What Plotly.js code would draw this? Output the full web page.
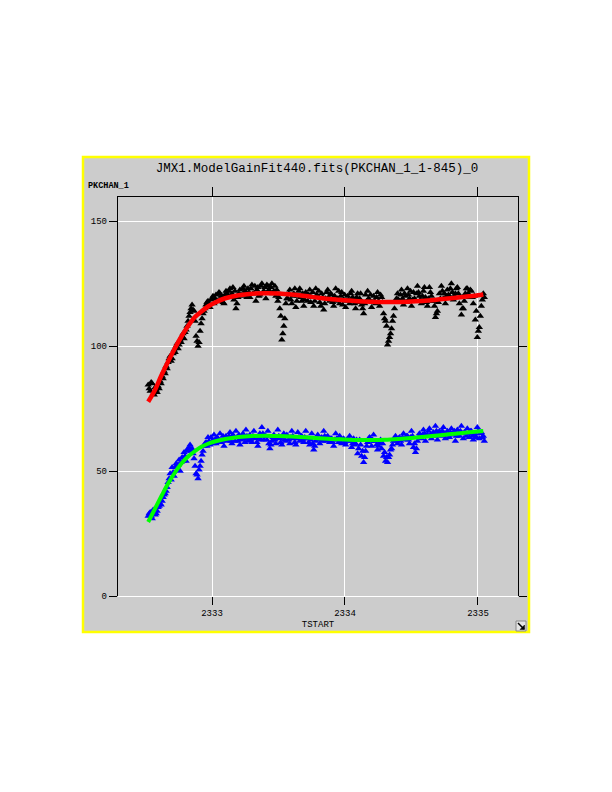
<!DOCTYPE html>
<html>
<head>
<meta charset="utf-8">
<script src="https://cdn.plot.ly/plotly-3.0.1.min.js"></script>
<style>html,body{margin:0;padding:0;background:#fff;}#chart{width:612px;height:792px;}</style>
</head>
<body>
<div id="chart"></div>
<script>
// TSTART values of the samples, first half (shared by both channels)
const tstart = [
2332.520,2332.535,2332.550,2332.565,2332.580,2332.595,2332.610,2332.625,2332.640,2332.655,
2332.670,2332.685,2332.700,2332.715,2332.730,2332.745,2332.760,2332.775,2332.790,2332.805,
2332.820,2332.835,2332.850,2332.865,2332.880,2332.895,2332.910,2332.925,2332.940,2332.955,
2332.970,2332.985,2333.000,2333.015,2333.030,2333.045,2333.060,2333.075,2333.090,2333.105,
2333.120,2333.135,2333.150,2333.165,2333.180,2333.195,2333.210,2333.225,2333.240,2333.255,
2333.270,2333.285,2333.300,2333.315,2333.330,2333.345,2333.360,2333.375,2333.390,2333.405,
2333.420,2333.435,2333.450,2333.465,2333.480,2333.495,2333.510,2333.525,2333.540,2333.555,
2333.570,2333.585,2333.600,2333.615,2333.630,2333.645,2333.660,2333.675,2333.690,2333.705,
2333.720,2333.735,2333.750,2333.765,2333.780,2333.795,2333.810,2333.825,2333.840,2333.855,
2333.870,2333.885,2333.900,2333.915,2333.930,2333.945,2333.960,2333.975,2333.990,2334.005,
2334.020,2334.035,2334.050,2334.065,2334.080,2334.095,2334.110,2334.125,2334.140,2334.155,
2334.170,2334.185,2334.200,2334.215,2334.230,2334.245,2334.260,2334.275,2334.290,2334.305,
2334.320,2334.335,2334.350,2334.365,2334.380,2334.395,2334.410,2334.425,2334.440,2334.455,
2334.470,2334.485,2334.500,2334.515,2334.530,2334.545,2334.560,2334.575,2334.590,2334.605,
2334.620,2334.635,2334.650,2334.665,2334.680,2334.695,2334.710,2334.725,2334.740,2334.755,
2334.770,2334.785,2334.800,2334.815,2334.830,2334.845,2334.860,2334.875,2334.890,2334.905,
2334.920,2334.935,2334.950,2334.965,2334.980,2334.995,2335.010,2335.025,2335.040
];
// TSTART values of the samples, second half (interleaved)
const tstart2 = [
2332.5275,2332.5425,2332.5575,2332.5725,2332.5875,2332.6025,2332.6175,2332.6325,2332.6475,2332.6625,
2332.6775,2332.6925,2332.7075,2332.7225,2332.7375,2332.7525,2332.7675,2332.7825,2332.7975,2332.8125,
2332.8275,2332.8425,2332.8575,2332.8725,2332.8875,2332.9025,2332.9175,2332.9325,2332.9475,2332.9625,
2332.9775,2332.9925,2333.0075,2333.0225,2333.0375,2333.0525,2333.0675,2333.0825,2333.0975,2333.1125,
2333.1275,2333.1425,2333.1575,2333.1725,2333.1875,2333.2025,2333.2175,2333.2325,2333.2475,2333.2625,
2333.2775,2333.2925,2333.3075,2333.3225,2333.3375,2333.3525,2333.3675,2333.3825,2333.3975,2333.4125,
2333.4275,2333.4425,2333.4575,2333.4725,2333.4875,2333.5025,2333.5175,2333.5325,2333.5475,2333.5625,
2333.5775,2333.5925,2333.6075,2333.6225,2333.6375,2333.6525,2333.6675,2333.6825,2333.6975,2333.7125,
2333.7275,2333.7425,2333.7575,2333.7725,2333.7875,2333.8025,2333.8175,2333.8325,2333.8475,2333.8625,
2333.8775,2333.8925,2333.9075,2333.9225,2333.9375,2333.9525,2333.9675,2333.9825,2333.9975,2334.0125,
2334.0275,2334.0425,2334.0575,2334.0725,2334.0875,2334.1025,2334.1175,2334.1325,2334.1475,2334.1625,
2334.1775,2334.1925,2334.2075,2334.2225,2334.2375,2334.2525,2334.2675,2334.2825,2334.2975,2334.3125,
2334.3275,2334.3425,2334.3575,2334.3725,2334.3875,2334.4025,2334.4175,2334.4325,2334.4475,2334.4625,
2334.4775,2334.4925,2334.5075,2334.5225,2334.5375,2334.5525,2334.5675,2334.5825,2334.5975,2334.6125,
2334.6275,2334.6425,2334.6575,2334.6725,2334.6875,2334.7025,2334.7175,2334.7325,2334.7475,2334.7625,
2334.7775,2334.7925,2334.8075,2334.8225,2334.8375,2334.8525,2334.8675,2334.8825,2334.8975,2334.9125,
2334.9275,2334.9425,2334.9575,2334.9725,2334.9875,2335.0025,2335.0175,2335.0325,2335.0475
];

// PKCHAN_1 channel A (black triangles)
const pkchanA = [
84.5,82,85,80.5,82.5,84,86,88,90,92,
93.5,96,95,98.5,100,99,102.5,104,103,106.5,
110,113.5,116.5,114,104,100,106,111,114,116.5,
118,115.5,119,117,120.5,118,121,119.5,117,122,
120,123,121,118.5,115,119.5,122.5,120,124,121.5,
123,119.5,124.5,121,118,123.5,120.5,125,122,119,
124,121.5,125,122,120,118,115,102.5,108,117,
119,122.5,117,121,115.5,120,123,118,116,121.5,
118,122.5,119.5,116,123,120,117.5,121,114.5,119,
122.5,118,120.5,116,123,119,117,121.5,118.5,115.5,
120,117,122,118.5,115,121,119,116.5,113,120.5,
122,118,115.5,120,117,121.5,116,119.5,113,110,
100.5,103.5,107,112,117.5,121,118,122.5,116.5,120,
123,119,116,121.5,118,124,120,117,122,119.5,
116,123.5,120,118,111.5,114,121,124,119,117,
122.5,120,125,118.5,121,123.5,117,112.5,115,121,
123,119.5,122,117,110.5,103.5,107.5,116,121
];
const pkchanA2 = [
83,85.5,81,83.5,81.5,83,85,87,89,91,
95,94,97,97.5,101,100.5,101.5,105,105.5,108,
112,115,114.5,110,102,101.5,109,113,115,117.5,
116.5,118.5,120,119,118,121.5,120,117.5,120.5,121,
122,119.5,123.5,122,117,121,120.5,123,122,119.5,
121.5,123,121,124,122.5,120,124,121.5,123.5,124.5,
122.5,123.5,121,124,122.5,119.5,112,105,111,119,
121,118.5,120,123,118,122,119.5,121,118.5,120,
120.5,117.5,121.5,118,120.5,122,116,119.5,117,121.5,
119.5,121,117.5,120,118,122,120,116.5,120.5,118,
118.5,121,119.5,117,119.5,117.5,121,115,117,118,
119,120.5,117.5,118,119.5,118,120.5,117.5,111,108,
102,105,110,115,119,118.5,120.5,119,121,117.5,
120.5,122,118.5,119,121,121.5,118.5,120,123.5,117.5,
119,121.5,118,116,113,117.5,119,122,121,120,
120.5,123,121.5,120,123,121,119.5,115,118,123,
121,122.5,119.5,120,114,106,112,118.5,119.5
];

// PKCHAN_1 channel B (blue triangles)
const pkchanB = [
32,33.5,31,34,33,35.5,37,38,40.5,42,
45.5,49,51.5,48,53,52.5,50,55.5,57.5,54,
58,60.5,59,55,49,47,52,56.5,60,61.5,
63.5,60.5,62,64.5,61,63,65,62,60,64,
62.5,65.5,61,63.5,66,62,60.5,64,63,66.5,
62,64.5,61.5,66,63,60,65,67.5,62.5,64,
66,59,62,64.5,61,66.5,63,60.5,65,62,
64,61,66,63,60.5,65.5,62,64,61.5,66,
63,60.5,65,58.5,62,64.5,61,63.5,66,62,
64,61.5,63,60,65,62.5,64,61,63,60.5,
62,64,59.5,63,61,57,62.5,56,53.5,58,
61.5,63.5,60,64.5,62,58.5,61,59,56,54,
53.5,56.5,59,62,64,61,63.5,60.5,65,62.5,
64,61,66,59.5,57.5,62,65,63,66.5,62,
64.5,67,63,65.5,68,62.5,66,64,67.5,63,
66,63.5,67,64.5,62,66.5,64,68,63,65.5,
67,63.5,66,62.5,65,67.5,63,65.5,64
];
const pkchanB2 = [
33,32,34.5,32.5,34,36,36.5,39.5,41,43.5,
47,46.5,49.5,51.5,50.5,54.5,53.5,54,56,58.5,
59.5,58,57,52,48.5,50.5,54,58,61,60,
62,63.5,61,62.5,63.5,62,61.5,64,62.5,62,
64,62,64.5,62,63.5,64.5,62.5,65,61.5,64,
63.5,62.5,64,63.5,61.5,63.5,62.5,65,64,62.5,
61,60.5,63.5,62.5,63.5,64,61.5,63.5,62.5,64.5,
62.5,63.5,64,61.5,63,63.5,64,62.5,63.5,63,
61.5,62.5,61,60,63.5,62.5,63,62,64,63.5,
62.5,63,61.5,62.5,63,61.5,62.5,62.5,61.5,62.5,
63,62,61,60.5,62.5,59,60.5,58,55.5,60,
63,62,62.5,62,60.5,60,62.5,61,57.5,55.5,
55.5,58.5,60.5,63,62,63,62,63.5,63,64,
62.5,63.5,64,61,59,63.5,64,64.5,65,64,
66,64.5,65,64,66,65,64.5,66,65,64.5,
64.5,65.5,65,66,64,65,66,65,65.5,64,
65,66,64,64.5,63.5,66,65,63.5,62
];

// Model gain fit curves
const fitT = [
2332.52,2332.57,2332.62,2332.67,2332.72,2332.77,2332.82,2332.87,2332.92,2332.97,
2333.02,2333.10,2333.20,2333.30,2333.40,2333.50,2333.60,2333.70,2333.80,2333.90,
2334.00,2334.10,2334.20,2334.30,2334.40,2334.50,2334.60,2334.70,2334.80,2334.90,
2335.00,2335.04
];
const fitA = [
77.7,82.3,88.3,93.8,99,103.8,108,111.5,113.8,115.8,
117.3,119.1,120.3,120.9,121.1,121.0,120.6,120.0,119.3,118.7,
118.3,117.9,117.7,117.6,117.6,117.8,118.1,118.6,119.1,119.7,
120.3,120.6
];
const fitB = [
29.6,34.8,40,45,49.3,53,55.8,57.9,59.7,60.9,
61.8,62.8,63.6,64.0,64.1,64.0,63.8,63.5,63.1,62.8,
62.6,62.4,62.4,62.5,62.8,63.2,63.7,64.2,64.8,65.3,
65.8,66.0
];

const xTicks = [2333, 2334, 2335];
const yTicks = [0, 50, 100, 150];

const tickFont = {family: 'Liberation Mono, DejaVu Sans Mono, monospace', size: 9, color: '#000'};
const mk = (c) => ({symbol: 'triangle-up', size: 6.5, color: c, line: {width: 0}});

const traces = [
  {x: tstart, y: pkchanA, type: 'scatter', mode: 'markers', marker: mk('#000000'), name: 'chan A'},
  {x: tstart2, y: pkchanA2, type: 'scatter', mode: 'markers', marker: mk('#000000'), name: 'chan A (2)'},
  {x: tstart, y: pkchanB, type: 'scatter', mode: 'markers', marker: mk('#0000ff'), name: 'chan B'},
  {x: tstart2, y: pkchanB2, type: 'scatter', mode: 'markers', marker: mk('#0000ff'), name: 'chan B (2)'},
  {x: fitT, y: fitA, type: 'scatter', mode: 'lines', line: {color: '#ff0000', width: 4.5, shape: 'spline'}, name: 'fit A'},
  {x: fitT, y: fitB, type: 'scatter', mode: 'lines', line: {color: '#00ff00', width: 4, shape: 'spline'}, name: 'fit B'},
  {x: [2333], y: [0], xaxis: 'x2', type: 'scatter', mode: 'markers', marker: {opacity: 0}, hoverinfo: 'skip', showlegend: false}
];

// paper coords: plot area px 118..518 (x), 197..596 (y)
function px(v) { return (v - 118) / 400; }
function py(v) { return (596 - v) / 399; }

const layout = {
  width: 612, height: 792,
  margin: {l: 118, r: 94, t: 197, b: 196, pad: 0},
  paper_bgcolor: '#ffffff',
  plot_bgcolor: '#cccccc',
  showlegend: false,
  title: {text: 'JMX1.ModelGainFit440.fits(PKCHAN_1_1-845)_0',
          font: {family: 'Liberation Mono, DejaVu Sans Mono, monospace', size: 12.5, color: '#000'},
          xref: 'paper', x: px(317), xanchor: 'center', yref: 'container', y: 1 - 168/792, yanchor: 'middle'},
  xaxis: {
    range: [2332.293, 2335.301], tickvals: xTicks, ticktext: xTicks.map(String),
    ticks: 'outside', ticklen: 8, tickwidth: 1, tickcolor: '#000',
    showline: false, showgrid: true, gridcolor: '#ffffff', gridwidth: 1, zeroline: false,
    tickfont: tickFont,
    title: {text: 'TSTART', font: tickFont, standoff: 2}
  },
  xaxis2: {
    overlaying: 'x', side: 'top', matches: 'x', range: [2332.293, 2335.301], tickvals: xTicks,
    ticks: 'outside', ticklen: 9, tickwidth: 1, tickcolor: '#000',
    showticklabels: false, showline: true, linecolor: '#000', linewidth: 1.2, showgrid: false, zeroline: false
  },
  yaxis: {
    range: [0, 159.6], tickvals: yTicks, ticktext: yTicks.map(String),
    ticks: 'outside', ticklen: 8, tickwidth: 1, tickcolor: '#000',
    showline: true, linecolor: '#000', linewidth: 1.2, mirror: 'ticks',
    showgrid: true, gridcolor: '#ffffff', gridwidth: 1,
    zeroline: true, zerolinecolor: '#ffffff', zerolinewidth: 1,
    tickfont: tickFont
  },
  annotations: [
    {text: '<b>PKCHAN_1</b>', xref: 'paper', yref: 'paper', x: px(86), y: py(186), xanchor: 'left', yanchor: 'middle',
     showarrow: false, font: {family: 'Liberation Mono, DejaVu Sans Mono, monospace', size: 8.5, color: '#000'}}
  ],
  shapes: [
    {type: 'rect', xref: 'paper', yref: 'paper', x0: px(83), x1: px(529), y0: py(632), y1: py(157),
     fillcolor: '#cccccc', line: {color: '#ffff00', width: 2.5}, layer: 'below'},
    {type: 'rect', xref: 'paper', yref: 'paper', x0: px(516), x1: px(526), y0: py(631), y1: py(621),
     fillcolor: '#e4e4e4', line: {color: '#888888', width: 1}},
    {type: 'line', xref: 'paper', yref: 'paper', x0: px(518), x1: px(524), y0: py(623), y1: py(629),
     line: {color: '#000', width: 1.5}},
    {type: 'path', xref: 'paper', yref: 'paper',
     path: 'M ' + px(524.5) + ' ' + py(629.5) + ' L ' + px(524.5) + ' ' + py(625) + ' L ' + px(520) + ' ' + py(629.5) + ' Z',
     fillcolor: '#000', line: {color: '#000', width: 0.5}}
  ]
};

Plotly.newPlot('chart', traces, layout, {displayModeBar: false, staticPlot: true});
</script>
</body>
</html>
